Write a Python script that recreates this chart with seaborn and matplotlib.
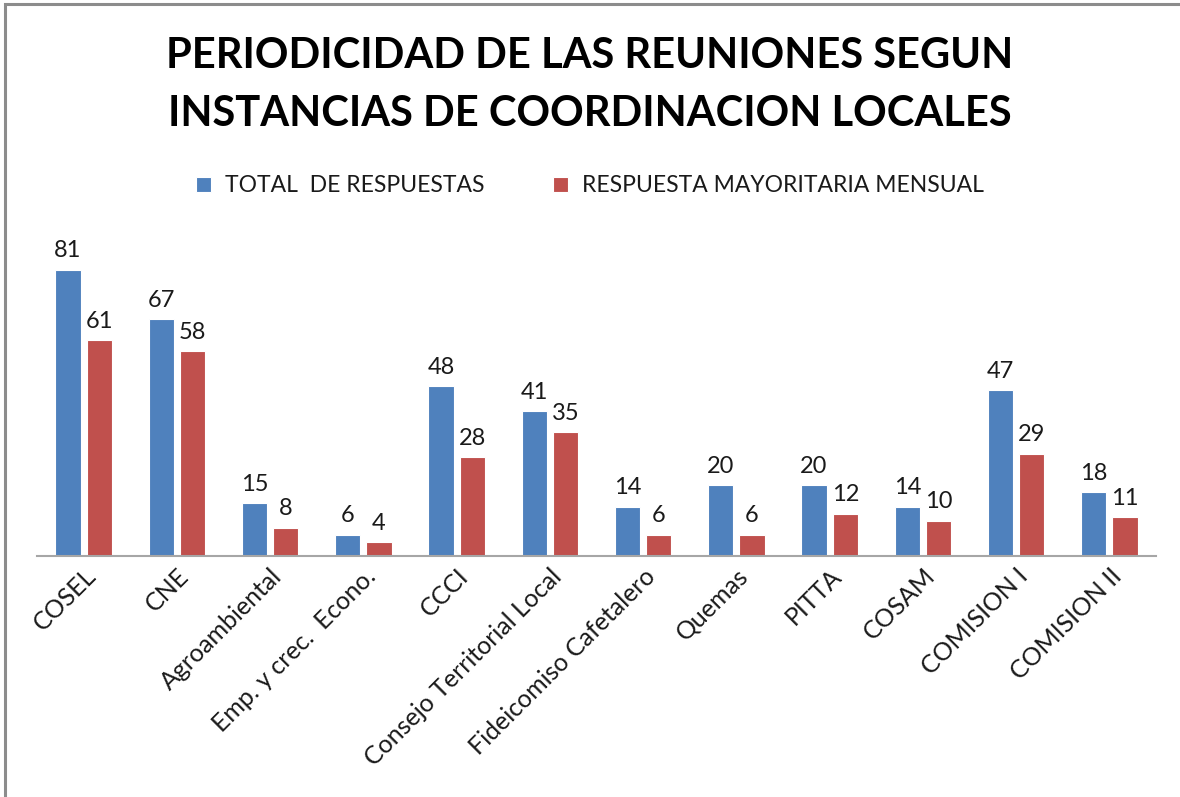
import matplotlib
matplotlib.use("Agg")
import matplotlib.pyplot as plt
import seaborn as sns
import pandas as pd
from matplotlib.patches import Rectangle

categories = ["COSEL", "CNE", "Agroambiental", "Emp. y crec.  Econo.", "CCCI",
              "Consejo Territorial Local", "Fideicomiso Cafetalero", "Quemas",
              "PITTA", "COSAM", "COMISION I", "COMISION II"]
total_respuestas = [81, 67, 15, 6, 48, 41, 14, 20, 20, 14, 47, 18]
mayoritaria_mensual = [61, 58, 8, 4, 28, 35, 6, 6, 12, 10, 29, 11]
series_names = ["TOTAL  DE RESPUESTAS", "RESPUESTA MAYORITARIA MENSUAL"]
title_text = "PERIODICIDAD DE LAS REUNIONES SEGUN\nINSTANCIAS DE COORDINACION LOCALES"

blue = "#4F81BD"
red = "#C0504D"

df = pd.DataFrame({
    "categoria": categories * 2,
    "valor": total_respuestas + mayoritaria_mensual,
    "serie": [series_names[0]] * len(categories) + [series_names[1]] * len(categories),
})

sns.set_theme(style="white")
plt.rcParams["font.family"] = ["Lato", "DejaVu Sans"]

fig = plt.figure(figsize=(11.8, 7.97), dpi=100)
ax = fig.add_axes([0.0314, 0.3024, 0.9483, 0.399])

sns.barplot(data=df, x="categoria", y="valor", hue="serie",
            palette=[blue, red], saturation=1, width=0.67, gap=0.19,
            edgecolor="white", linewidth=0.8, ax=ax, legend=True)

for container in ax.containers:
    ax.bar_label(container, padding=6, fontsize=17, color="#1a1a1a")

ax.set_ylim(0, 90)
ax.set_xlim(-0.5, len(categories) - 0.5)
ax.set_xlabel("")
ax.set_ylabel("")
ax.set_yticks([])
for side in ["top", "right", "left"]:
    ax.spines[side].set_visible(False)
ax.spines["bottom"].set_color("#a6a6a6")
ax.spines["bottom"].set_linewidth(1.5)
ax.tick_params(axis="x", length=0, pad=6)
ax.set_xticks(range(len(categories)))
ax.set_xticklabels(categories, rotation=45, ha="right", rotation_mode="anchor",
                   fontsize=18, color="#1a1a1a")

handles, labels = ax.get_legend_handles_labels()
ax.legend(handles, labels, loc="center", bbox_to_anchor=(0.5, 0.767),
          bbox_transform=fig.transFigure, ncol=2, frameon=False,
          fontsize=16.5, handlelength=0.65, handleheight=0.65,
          handletextpad=0.6, columnspacing=3.0, labelcolor="#1a1a1a")

fig.text(0.5, 0.893, title_text, ha="center", va="center", fontsize=30,
         fontweight="bold", linespacing=1.65, color="black")

# chart frame
fig.add_artist(Rectangle((0.0045, -0.2), 1.2, 1.195, transform=fig.transFigure,
                         fill=False, edgecolor="#8c8c8c", linewidth=2.2))

fig.savefig("out.png", dpi=100, facecolor="white")
